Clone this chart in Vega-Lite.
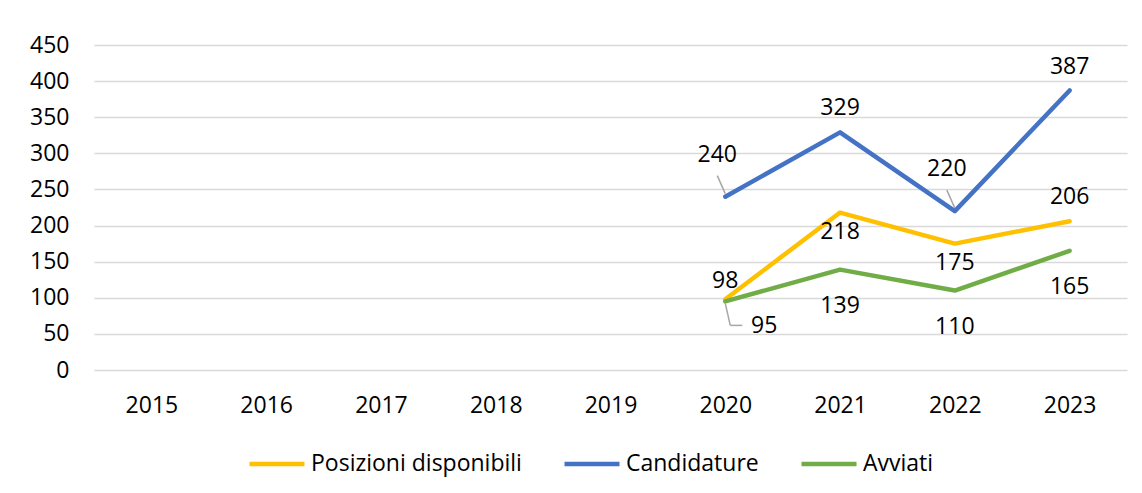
{
  "$schema": "https://vega.github.io/schema/vega-lite/v6.json",
  "width": 1033,
  "height": 325,
  "autosize": "none",
  "padding": {"left": 94, "top": 45, "right": 15, "bottom": 123},
  "background": "#ffffff",
  "config": {
    "view": {"stroke": null},
    "font": "Open Sans",
    "text": {"font": "Open Sans"}
  },
  "data": {
    "values": [
      {"year": "2020", "series": "Posizioni disponibili", "value": 98},
      {"year": "2021", "series": "Posizioni disponibili", "value": 218},
      {"year": "2022", "series": "Posizioni disponibili", "value": 175},
      {"year": "2023", "series": "Posizioni disponibili", "value": 206},
      {"year": "2020", "series": "Candidature", "value": 240},
      {"year": "2021", "series": "Candidature", "value": 329},
      {"year": "2022", "series": "Candidature", "value": 220},
      {"year": "2023", "series": "Candidature", "value": 387},
      {"year": "2020", "series": "Avviati", "value": 95},
      {"year": "2021", "series": "Avviati", "value": 139},
      {"year": "2022", "series": "Avviati", "value": 110},
      {"year": "2023", "series": "Avviati", "value": 165}
    ]
  },
  "encoding": {
    "x": {
      "field": "year",
      "type": "ordinal",
      "scale": {"type": "point", "padding": 0.5, "domain": ["2015", "2016", "2017", "2018", "2019", "2020", "2021", "2022", "2023"]},
      "axis": {
        "title": null,
        "domain": false,
        "ticks": false,
        "grid": false,
        "labelAngle": 0,
        "labelFont": "Open Sans",
        "labelFontSize": 23,
        "labelColor": "#000000",
        "labelPadding": 24
      }
    },
    "y": {
      "field": "value",
      "type": "quantitative",
      "scale": {"domain": [0, 450], "nice": false, "zero": true},
      "axis": {
        "title": null,
        "domain": false,
        "ticks": false,
        "values": [0, 50, 100, 150, 200, 250, 300, 350, 400, 450],
        "grid": true,
        "gridColor": "#d9d9d9",
        "gridWidth": 1.5,
        "labelFont": "Open Sans",
        "labelFontSize": 23,
        "labelColor": "#000000",
        "labelPadding": 25
      }
    }
  },
  "layer": [
    {
      "mark": {"type": "line", "strokeWidth": 4.5, "strokeCap": "round", "strokeJoin": "round"},
      "encoding": {
        "color": {
          "field": "series",
          "type": "nominal",
          "scale": {"domain": ["Posizioni disponibili", "Candidature", "Avviati"], "range": ["#FFC000", "#4472C4", "#70AD47"]},
          "legend": {
            "title": null,
            "orient": "none",
            "direction": "horizontal",
            "legendX": 153,
            "legendY": 389,
            "symbolType": "stroke",
            "symbolSize": 3025,
            "symbolStrokeWidth": 4.5,
            "labelFont": "Open Sans",
            "labelFontSize": 23,
            "labelColor": "#000000",
            "labelLimit": 0,
            "labelOffset": 4,
            "columnPadding": 33
          }
        }
      }
    },
    {
      "transform": [{"filter": "(datum.series == 'Candidature' && (datum.year == '2021' || datum.year == '2023')) || (datum.series == 'Posizioni disponibili' && datum.year == '2023')"}],
      "mark": {"type": "text", "fontSize": 23, "color": "#000000", "baseline": "middle", "dy": -24},
      "encoding": {"text": {"field": "value", "type": "quantitative"}}
    },
    {
      "transform": [{"filter": "datum.series == 'Candidature' && (datum.year == '2020' || datum.year == '2022')"}],
      "mark": {"type": "text", "fontSize": 23, "color": "#000000", "baseline": "middle", "dx": -8, "dy": -42},
      "encoding": {"text": {"field": "value", "type": "quantitative"}}
    },
    {
      "transform": [{"filter": "datum.series == 'Posizioni disponibili' && datum.year == '2020'"}],
      "mark": {"type": "text", "fontSize": 23, "color": "#000000", "baseline": "middle", "dy": -18},
      "encoding": {"text": {"field": "value", "type": "quantitative"}}
    },
    {
      "transform": [{"filter": "datum.series == 'Posizioni disponibili' && (datum.year == '2021' || datum.year == '2022')"}],
      "mark": {"type": "text", "fontSize": 23, "color": "#000000", "baseline": "middle", "dy": 19},
      "encoding": {"text": {"field": "value", "type": "quantitative"}}
    },
    {
      "transform": [{"filter": "datum.series == 'Avviati' && datum.year != '2020'"}],
      "mark": {"type": "text", "fontSize": 23, "color": "#000000", "baseline": "middle", "dy": 36},
      "encoding": {"text": {"field": "value", "type": "quantitative"}}
    },
    {
      "transform": [{"filter": "datum.series == 'Avviati' && datum.year == '2020'"}],
      "mark": {"type": "text", "fontSize": 23, "color": "#000000", "baseline": "middle", "dx": 39, "dy": 25},
      "encoding": {"text": {"field": "value", "type": "quantitative"}}
    },
    {
      "transform": [{"filter": "datum.series == 'Candidature' && (datum.year == '2020' || datum.year == '2022')"}],
      "mark": {"type": "rule", "color": "#a6a6a6", "strokeWidth": 1.5, "yOffset": -3, "x2Offset": -8, "y2Offset": -21},
      "encoding": {
        "x2": {"field": "year"},
        "y2": {"field": "value"}
      }
    },
    {
      "transform": [{"filter": "datum.series == 'Avviati' && datum.year == '2020'"}],
      "mark": {"type": "rule", "color": "#a6a6a6", "strokeWidth": 1.5, "yOffset": 2, "x2Offset": 5, "y2Offset": 24},
      "encoding": {
        "x2": {"field": "year"},
        "y2": {"field": "value"}
      }
    },
    {
      "transform": [{"filter": "datum.series == 'Avviati' && datum.year == '2020'"}],
      "mark": {"type": "rule", "color": "#a6a6a6", "strokeWidth": 1.5, "xOffset": 5, "yOffset": 24, "x2Offset": 17, "y2Offset": 24},
      "encoding": {
        "x2": {"field": "year"},
        "y2": {"field": "value"}
      }
    }
  ]
}
